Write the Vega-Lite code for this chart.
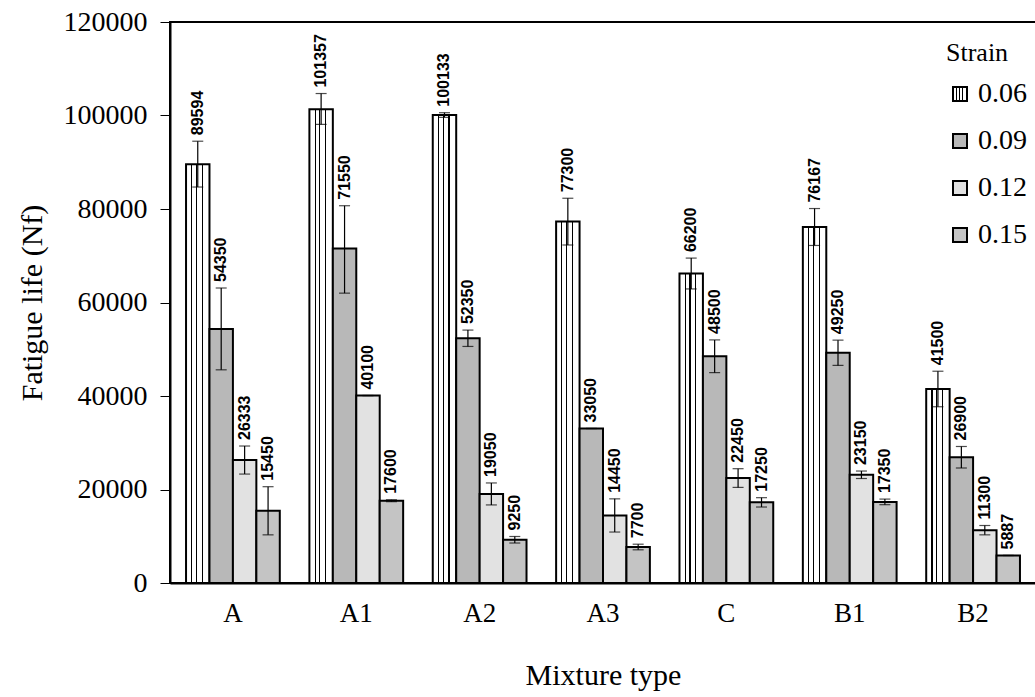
{
  "$schema": "https://vega.github.io/schema/vega-lite/v6.json",
  "width": 866,
  "height": 561,
  "autosize": {"type": "none"},
  "padding": {"left": 170, "top": 22, "right": 0, "bottom": 114},
  "background": "white",
  "config": {
    "view": {"stroke": "black", "strokeWidth": 2},
    "font": "Liberation Serif",
    "axis": {"labelColor": "black", "titleColor": "black", "domainColor": "black", "tickColor": "black", "grid": false, "titleFontWeight": "normal"},
    "legend": {"titleFontWeight": "normal"}
  },
  "data": {
    "values": [
      {"mix": "A", "strain": "0.06", "value": 89594, "lo": 84700, "hi": 94500},
      {"mix": "A", "strain": "0.09", "value": 54350, "lo": 45600, "hi": 63100},
      {"mix": "A", "strain": "0.12", "value": 26333, "lo": 23300, "hi": 29300},
      {"mix": "A", "strain": "0.15", "value": 15450, "lo": 10300, "hi": 20600},
      {"mix": "A1", "strain": "0.06", "value": 101357, "lo": 98100, "hi": 104700},
      {"mix": "A1", "strain": "0.09", "value": 71550, "lo": 62000, "hi": 80700},
      {"mix": "A1", "strain": "0.12", "value": 40100, "lo": 40100, "hi": 40100},
      {"mix": "A1", "strain": "0.15", "value": 17600, "lo": 17400, "hi": 17800},
      {"mix": "A2", "strain": "0.06", "value": 100133, "lo": 99600, "hi": 100600},
      {"mix": "A2", "strain": "0.09", "value": 52350, "lo": 50600, "hi": 54100},
      {"mix": "A2", "strain": "0.12", "value": 19050, "lo": 16700, "hi": 21400},
      {"mix": "A2", "strain": "0.15", "value": 9250, "lo": 8550, "hi": 9950},
      {"mix": "A3", "strain": "0.06", "value": 77300, "lo": 72300, "hi": 82300},
      {"mix": "A3", "strain": "0.09", "value": 33050, "lo": 33050, "hi": 33050},
      {"mix": "A3", "strain": "0.12", "value": 14450, "lo": 10900, "hi": 18000},
      {"mix": "A3", "strain": "0.15", "value": 7700, "lo": 7100, "hi": 8300},
      {"mix": "C", "strain": "0.06", "value": 66200, "lo": 62900, "hi": 69500},
      {"mix": "C", "strain": "0.09", "value": 48500, "lo": 45000, "hi": 52000},
      {"mix": "C", "strain": "0.12", "value": 22450, "lo": 20450, "hi": 24450},
      {"mix": "C", "strain": "0.15", "value": 17250, "lo": 16250, "hi": 18250},
      {"mix": "B1", "strain": "0.06", "value": 76167, "lo": 72200, "hi": 80100},
      {"mix": "B1", "strain": "0.09", "value": 49250, "lo": 46550, "hi": 51950},
      {"mix": "B1", "strain": "0.12", "value": 23150, "lo": 22350, "hi": 23950},
      {"mix": "B1", "strain": "0.15", "value": 17350, "lo": 16750, "hi": 17950},
      {"mix": "B2", "strain": "0.06", "value": 41500, "lo": 37700, "hi": 45300},
      {"mix": "B2", "strain": "0.09", "value": 26900, "lo": 24600, "hi": 29200},
      {"mix": "B2", "strain": "0.12", "value": 11300, "lo": 10300, "hi": 12300},
      {"mix": "B2", "strain": "0.15", "value": 5887, "lo": 5887, "hi": 5887}
    ]
  },
  "encoding": {
    "x": {
      "field": "mix", "type": "nominal",
      "sort": ["A", "A1", "A2", "A3", "C", "B1", "B2"],
      "scale": {"paddingInner": 0.24, "paddingOuter": 0.13},
      "axis": {"title": "Mixture type", "labelAngle": 0, "labelFontSize": 27, "titleFontSize": 30, "ticks": false, "labelPadding": 17, "titlePadding": 34, "domainWidth": 2}
    },
    "xOffset": {"field": "strain", "type": "nominal", "scale": {"paddingInner": 0, "paddingOuter": 0}}
  },
  "layer": [
    {
      "mark": {"type": "bar", "stroke": "black", "strokeWidth": 2},
      "encoding": {
        "y": {
          "field": "value", "type": "quantitative",
          "scale": {"domain": [0, 120000]},
          "axis": {"title": "Fatigue life (Nf)", "values": [0, 20000, 40000, 60000, 80000, 100000, 120000], "format": "d", "labelFontSize": 28, "titleFontSize": 30, "tickSize": 10, "labelPadding": 13, "titlePadding": 16, "domainWidth": 2}
        },
        "color": {
          "field": "strain", "type": "nominal",
          "scale": {
            "domain": ["0.06", "0.09", "0.12", "0.15"],
            "range": [
              {"expr": "{gradient: 'linear', x1: 0, y1: 0, x2: 1, y2: 0, stops: [{offset: 0, color: 'white'}, {offset: 0.22, color: 'white'}, {offset: 0.22, color: 'black'}, {offset: 0.27, color: 'black'}, {offset: 0.27, color: 'white'}, {offset: 0.42, color: 'white'}, {offset: 0.42, color: 'black'}, {offset: 0.47, color: 'black'}, {offset: 0.47, color: 'white'}, {offset: 0.67, color: 'white'}, {offset: 0.67, color: 'black'}, {offset: 0.72, color: 'black'}, {offset: 0.72, color: 'white'}, {offset: 1, color: 'white'}]}"},
              "#b8b8b8",
              "#e2e2e2",
              "#c4c4c4"
            ]
          },
          "legend": {
            "title": "Strain", "orient": "none", "legendX": 776, "legendY": 18,
            "titleFontSize": 26, "labelFontSize": 28, "titleFont": "Liberation Serif", "labelFont": "Liberation Serif",
            "symbolType": "square", "symbolSize": 196, "symbolStrokeColor": "black", "symbolStrokeWidth": 2,
            "rowPadding": 19, "titlePadding": 14, "labelOffset": 4, "titleAlign": "left"
          }
        }
      }
    },
    {
      "mark": {"type": "rule", "color": "black", "strokeWidth": 1.2},
      "encoding": {
        "y": {"field": "lo", "type": "quantitative"},
        "y2": {"field": "hi"}
      }
    },
    {
      "mark": {"type": "tick", "color": "black", "size": 11, "thickness": 1.2},
      "encoding": {"y": {"field": "hi", "type": "quantitative"}}
    },
    {
      "mark": {"type": "tick", "color": "black", "size": 11, "thickness": 1.2},
      "encoding": {"y": {"field": "lo", "type": "quantitative"}}
    },
    {
      "mark": {"type": "text", "angle": 270, "align": "left", "baseline": "middle", "dx": 6, "font": "Liberation Sans", "fontSize": 16, "fontWeight": "bold", "color": "black"},
      "encoding": {
        "y": {"field": "hi", "type": "quantitative"},
        "text": {"field": "value", "type": "quantitative", "format": "d"}
      }
    }
  ]
}
